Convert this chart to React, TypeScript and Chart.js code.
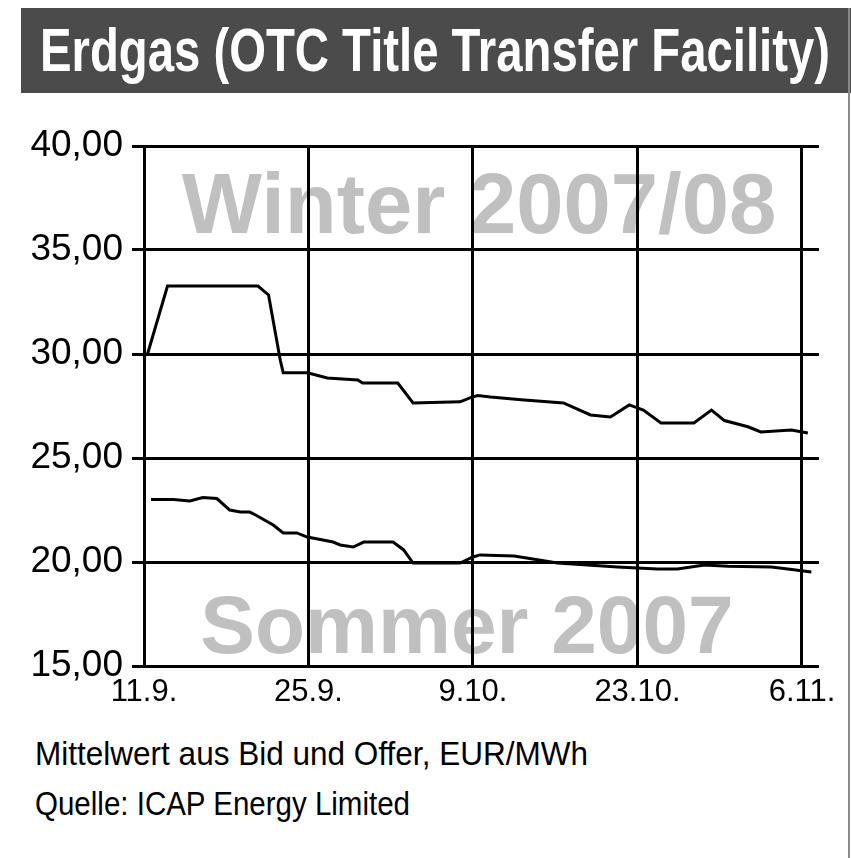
import React, { useEffect, useLayoutEffect, useRef } from "react";
import { Chart, registerables } from "chart.js";

Chart.register(...registerables);

// ---- data ----
const titleText = "Erdgas (OTC Title Transfer Facility)";
const footerLine1 = "Mittelwert aus Bid und Offer, EUR/MWh";
const footerLine2 = "Quelle: ICAP Energy Limited";
const winterLabel = "Winter 2007/08";
const sommerLabel = "Sommer 2007";

// days after 11.9.2007
const xTickDays = [0, 14, 28, 42, 56];
const xTickLabels = ["11.9.", "25.9.", "9.10.", "23.10.", "6.11."];
const yTickValues = [15, 20, 25, 30, 35, 40];

const winterDays = [0.3, 2, 9.7, 10.6, 11.6, 11.85, 13.9, 15.6, 18.2, 18.6, 21.6, 22.9, 26.9, 27.8, 28.4, 29.5, 32.1, 35.7, 38.0, 39.7, 41.3, 42.5, 44.0, 46.8, 48.3, 49.4, 51.4, 52.5, 55.1, 56.5];
const winterValues = [30.0, 33.27, 33.27, 32.84, 29.7, 29.1, 29.1, 28.85, 28.75, 28.6, 28.6, 27.65, 27.7, 27.9, 28.0, 27.93, 27.8, 27.65, 27.07, 26.97, 27.55, 27.3, 26.68, 26.68, 27.3, 26.8, 26.5, 26.25, 26.35, 26.2];

const sommerDays = [0.6, 2.5, 3.9, 5.0, 6.2, 7.3, 8.2, 9.0, 9.5, 11.0, 11.85, 13.0, 13.9, 16.1, 16.7, 17.8, 18.7, 21.2, 22.1, 22.9, 26.9, 28.0, 28.6, 31.5, 35.2, 40.3, 43.7, 45.4, 47.7, 49.7, 53.4, 54.8, 56.8];
const sommerValues = [23.0, 23.0, 22.93, 23.1, 23.05, 22.5, 22.4, 22.4, 22.26, 21.78, 21.4, 21.4, 21.2, 20.96, 20.82, 20.72, 20.96, 20.96, 20.58, 19.95, 19.95, 20.24, 20.34, 20.29, 19.95, 19.76, 19.66, 19.66, 19.86, 19.8, 19.76, 19.66, 19.52];

const NARROW = '"Liberation Sans Narrow", "Liberation Sans", Arial, sans-serif';
const SANS = '"Liberation Sans", Arial, sans-serif';

type FitProps = {
  text: string;
  left: number;
  baseline: number;
  width: number;
  fontSize: number;
  bold?: boolean;
  color: string;
  family: string;
};

function FitText({ text, left, baseline, width, fontSize, bold, color, family }: FitProps) {
  const ref = useRef<HTMLSpanElement>(null);
  useLayoutEffect(() => {
    const el = ref.current;
    if (!el) return;
    el.style.transform = "none";
    const w = el.getBoundingClientRect().width;
    if (w > 0) el.style.transform = `scaleX(${width / w})`;
  }, [text, width, fontSize]);
  const top = baseline - fontSize * 0.8465;
  return (
    <span
      ref={ref}
      style={{
        position: "absolute",
        left,
        top,
        fontSize,
        lineHeight: `${fontSize}px`,
        fontFamily: family,
        fontWeight: bold ? "bold" : "normal",
        color,
        whiteSpace: "nowrap",
        transformOrigin: "0 0",
        display: "inline-block",
      }}
    >
      {text}
    </span>
  );
}

function Watermark({ text, centerX, baseline, fontSize }: { text: string; centerX: number; baseline: number; fontSize: number }) {
  return (
    <div
      style={{
        position: "absolute",
        left: centerX - 400,
        width: 800,
        top: baseline - fontSize * 0.8465,
        fontSize,
        lineHeight: `${fontSize}px`,
        fontFamily: SANS,
        fontWeight: "bold",
        color: "#c0c0c0",
        textAlign: "center",
        whiteSpace: "nowrap",
        zIndex: 0,
      }}
    >
      {text}
    </div>
  );
}

const CANVAS_TOP = 100;
const CANVAS_W = 851;
const CANVAS_H = 620;

function ChartCanvas() {
  const ref = useRef<HTMLCanvasElement>(null);
  useEffect(() => {
    if (!ref.current) return;
    const chart = new Chart(ref.current, {
      type: "line",
      data: {
        datasets: [
          {
            label: winterLabel,
            data: winterDays.map((d, i) => ({ x: d, y: winterValues[i] })),
            borderColor: "#000",
            borderWidth: 3,
            pointRadius: 0,
            tension: 0,
            fill: false,
          },
          {
            label: sommerLabel,
            data: sommerDays.map((d, i) => ({ x: d, y: sommerValues[i] })),
            borderColor: "#000",
            borderWidth: 3,
            pointRadius: 0,
            tension: 0,
            fill: false,
          },
        ],
      },
      options: {
        animation: false,
        responsive: false,
        maintainAspectRatio: false,
        layout: { padding: { top: 146 - CANVAS_TOP, right: CANVAS_W - 819, left: 0, bottom: 0 } },
        plugins: { legend: { display: false }, tooltip: { enabled: false } },
        scales: {
          x: {
            type: "linear",
            min: 0,
            max: 57.45,
            afterBuildTicks: (s: any) => {
              s.ticks = xTickDays.map((v) => ({ value: v }));
            },
            afterFit: (s: any) => {
              s.height = CANVAS_H - (666 - CANVAS_TOP);
            },
            grid: { color: "#000", lineWidth: 3, drawTicks: false },
            border: { display: false },
            ticks: {
              autoSkip: false,
              maxRotation: 0,
              color: "#000",
              padding: 8,
              font: { family: SANS, size: 31 },
              callback: (v: any) => {
                const i = xTickDays.indexOf(Number(v));
                return i >= 0 ? xTickLabels[i] : "";
              },
            },
          },
          y: {
            type: "linear",
            min: 15,
            max: 40,
            afterBuildTicks: (s: any) => {
              s.ticks = yTickValues.map((v) => ({ value: v }));
            },
            afterFit: (s: any) => {
              s.width = 144;
            },
            grid: { color: "#000", lineWidth: 3, drawTicks: true, tickLength: 12 },
            border: { display: false },
            ticks: {
              color: "#000",
              padding: 9,
              font: { family: SANS, size: 37 },
              callback: (v: any) => Number(v).toFixed(2).replace(".", ","),
            },
          },
        },
      },
    });
    return () => chart.destroy();
  }, []);
  return (
    <canvas
      ref={ref}
      width={CANVAS_W}
      height={CANVAS_H}
      style={{ position: "absolute", left: 0, top: CANVAS_TOP, width: CANVAS_W, height: CANVAS_H, zIndex: 1 }}
    />
  );
}

export default function App() {
  return (
    <div style={{ position: "absolute", left: 0, top: 0, width: 851, height: 858, background: "#fff", overflow: "hidden" }}>
      <div style={{ position: "absolute", left: 21, top: 8, width: 830, height: 85, background: "#4b4b4b" }} />
      <div style={{ position: "absolute", left: 848, top: 8, width: 2, height: 850, background: "#8a8a8a" }} />
      <FitText text={titleText} left={40} baseline={72} width={790} fontSize={61} bold color="#fff" family={NARROW} />
      <Watermark text={winterLabel} centerX={479} baseline={233} fontSize={85} />
      <Watermark text={sommerLabel} centerX={467} baseline={653} fontSize={82} />
      <ChartCanvas />
      <FitText text={footerLine1} left={35} baseline={765} width={553} fontSize={33} color="#000" family={NARROW} />
      <FitText text={footerLine2} left={35} baseline={815} width={375} fontSize={33} color="#000" family={NARROW} />
    </div>
  );
}
